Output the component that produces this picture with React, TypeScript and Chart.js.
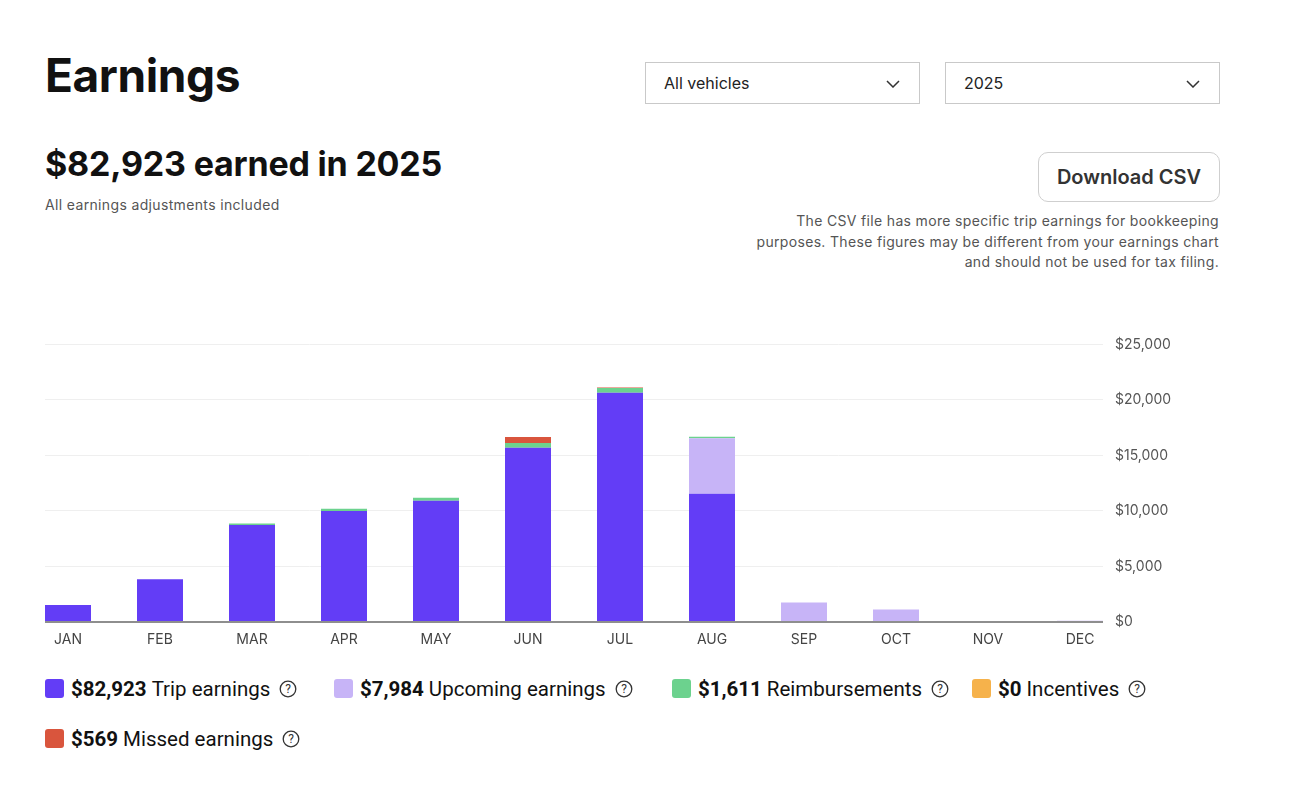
import React, { useEffect, useRef } from 'react';
import { Chart, registerables } from 'chart.js';

Chart.register(...registerables);

const months = ['JAN', 'FEB', 'MAR', 'APR', 'MAY', 'JUN', 'JUL', 'AUG', 'SEP', 'OCT', 'NOV', 'DEC'];
const tripEarnings = [1520, 3850, 8740, 10000, 10920, 15700, 20640, 11553, 0, 0, 0, 0];
const upcomingEarnings = [0, 0, 0, 0, 0, 0, 0, 5000, 1750, 1120, 0, 114];
const reimbursements = [20, 0, 130, 190, 280, 430, 430, 131, 0, 0, 0, 0];
const incentives = [0, 0, 0, 0, 0, 0, 0, 0, 0, 0, 0, 0];
const missedEarnings = [0, 0, 0, 0, 0, 530, 39, 0, 0, 0, 0, 0];
const yTicks = [0, 5000, 10000, 15000, 20000, 25000];

const legendItems = [
  { amount: '$82,923', label: 'Trip earnings', color: '#633df6', left: 45, top: 679 },
  { amount: '$7,984', label: 'Upcoming earnings', color: '#c7b4f7', left: 334, top: 679 },
  { amount: '$1,611', label: 'Reimbursements', color: '#6cd28e', left: 672, top: 679 },
  { amount: '$0', label: 'Incentives', color: '#f6b24b', left: 972, top: 679 },
  { amount: '$569', label: 'Missed earnings', color: '#d9553d', left: 45, top: 729 },
];

const series = [
  { label: 'Trip earnings', values: tripEarnings, color: '#633df6' },
  { label: 'Upcoming earnings', values: upcomingEarnings, color: '#c7b4f7' },
  { label: 'Reimbursements', values: reimbursements, color: '#6cd28e' },
  { label: 'Incentives', values: incentives, color: '#f6b24b' },
  { label: 'Missed earnings', values: missedEarnings, color: '#d9553d' },
];

const FONT = 'Inter, "Noto Sans", sans-serif';

const axisLinePlugin = {
  id: 'axisLine',
  afterDatasetsDraw(chart: any) {
    const { ctx, chartArea, scales } = chart;
    const y = scales.y.getPixelForValue(0);
    ctx.save();
    ctx.strokeStyle = '#8e8e8e';
    ctx.lineWidth = 2;
    ctx.beginPath();
    ctx.moveTo(chartArea.left, y);
    ctx.lineTo(chartArea.right, y);
    ctx.stroke();
    ctx.restore();
  },
};

function Chevron({ left, top }: { left: number; top: number }) {
  return (
    <svg width="14" height="8" viewBox="0 0 14 8" style={{ position: 'absolute', left, top }}>
      <polyline points="1,1 7,7 13,1" fill="none" stroke="#333" strokeWidth="1.5" />
    </svg>
  );
}

function HelpIcon() {
  return (
    <svg width="18" height="18" viewBox="0 0 18 18" style={{ marginLeft: 9, flex: 'none' }}>
      <circle cx="9" cy="9" r="7.8" fill="none" stroke="#333" strokeWidth="1.3" />
      <text x="9" y="13.2" textAnchor="middle" fontSize="12" fontFamily="Roboto, sans-serif" fill="#333">?</text>
    </svg>
  );
}

export default function App() {
  const canvasRef = useRef<HTMLCanvasElement | null>(null);

  useEffect(() => {
    if (!canvasRef.current) return;
    const chart = new Chart(canvasRef.current, {
      type: 'bar',
      data: {
        datasets: series.map((s) => ({
          label: s.label,
          data: s.values.map((v, i) => ({ x: i, y: v })),
          backgroundColor: s.color,
          borderWidth: 0,
          barPercentage: 0.5,
          categoryPercentage: 1,
        })),
      },
      options: {
        responsive: false,
        maintainAspectRatio: false,
        animation: false,
        layout: { padding: { top: 14, left: 0, right: 0, bottom: 0 } },
        plugins: { legend: { display: false }, tooltip: { enabled: false } },
        scales: {
          x: {
            type: 'linear',
            stacked: true,
            offset: false,
            min: -0.25,
            max: 11.25,
            grid: { display: false, drawTicks: false, offset: false },
            border: { display: false },
            ticks: {
              stepSize: 1,
              includeBounds: false,
              autoSkip: false,
              maxRotation: 0,
              padding: 9,
              color: '#444',
              font: { family: FONT, size: 14 },
              callback: (v: any) => months[v] ?? '',
            },
            afterFit: (s: any) => {
              s.height = 34;
            },
          },
          y: {
            position: 'right',
            stacked: true,
            min: yTicks[0],
            max: yTicks[yTicks.length - 1],
            grid: { color: '#efefef', drawTicks: false },
            border: { display: false },
            ticks: {
              stepSize: 5000,
              padding: 12,
              color: '#555',
              font: { family: FONT, size: 14 },
              callback: (v: any) => '$' + Number(v).toLocaleString('en-US'),
            },
            afterFit: (s: any) => {
              s.width = 100;
            },
          },
        },
      } as any,
      plugins: [axisLinePlugin],
    });
    return () => chart.destroy();
  }, []);

  return (
    <div style={{ position: 'absolute', left: 0, top: 0, width: 1307, height: 793, background: '#fff', fontFamily: FONT, color: '#111' }}>
      <div style={{ position: 'absolute', left: 45, top: 52, fontSize: 46, lineHeight: '46px', fontWeight: 700, letterSpacing: -0.4 }}>Earnings</div>

      <div style={{ position: 'absolute', left: 645, top: 62, width: 273, height: 40, border: '1px solid #c9c9c9', boxSizing: 'content-box' }}>
        <div style={{ position: 'absolute', left: 18, top: 10, fontSize: 16, lineHeight: '20px', color: '#222' }}>All vehicles</div>
        <Chevron left={240} top={17} />
      </div>
      <div style={{ position: 'absolute', left: 945, top: 62, width: 273, height: 40, border: '1px solid #c9c9c9', boxSizing: 'content-box' }}>
        <div style={{ position: 'absolute', left: 18, top: 10, fontSize: 16, lineHeight: '20px', color: '#222' }}>2025</div>
        <Chevron left={240} top={17} />
      </div>

      <div style={{ position: 'absolute', left: 45, top: 147, fontSize: 34, lineHeight: '34px', fontWeight: 700, letterSpacing: -0.2 }}>$82,923 earned in 2025</div>
      <div style={{ position: 'absolute', left: 45, top: 196, fontSize: 14, lineHeight: '18px', color: '#555', letterSpacing: 0.35 }}>All earnings adjustments included</div>

      <div style={{ position: 'absolute', left: 1038, top: 152, width: 180, height: 48, border: '1px solid #cfcfcf', borderRadius: 10, display: 'flex', alignItems: 'center', justifyContent: 'center', fontSize: 20, fontWeight: 600, color: '#333', boxSizing: 'content-box' }}>Download CSV</div>
      <div style={{ position: 'absolute', right: 1307 - 1219, top: 211, width: 520, textAlign: 'right', fontSize: 14, lineHeight: '20.5px', color: '#555', letterSpacing: 0.33 }}>
        The CSV file has more specific trip earnings for bookkeeping
        <br />
        purposes. These figures may be different from your earnings chart
        <br />
        and should not be used for tax filing.
      </div>

      <canvas ref={canvasRef} width={1158} height={332} style={{ position: 'absolute', left: 45, top: 324, width: 1158, height: 332 }} />

      {legendItems.map((it) => (
        <div key={it.label} style={{ position: 'absolute', left: it.left, top: it.top, height: 19, display: 'flex', alignItems: 'center', fontFamily: 'Roboto, sans-serif', fontSize: 20.5, whiteSpace: 'nowrap', color: '#111' }}>
          <span style={{ width: 19, height: 19, borderRadius: 3, background: it.color, marginRight: 7, flex: 'none' }} />
          <span style={{ fontWeight: 700 }}>{it.amount}</span>
          <span style={{ marginLeft: 5 }}>{it.label}</span>
          <HelpIcon />
        </div>
      ))}
    </div>
  );
}
